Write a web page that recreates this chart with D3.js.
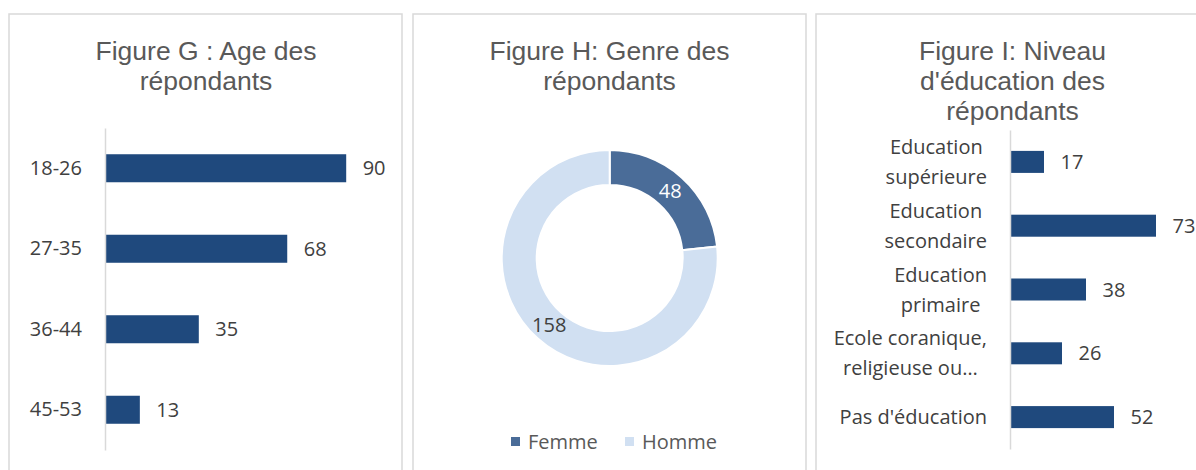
<!DOCTYPE html>
<html>
<head>
<meta charset="utf-8">
<script src="https://cdn.jsdelivr.net/npm/d3@7"></script>
<style>
  body { margin: 0; background: #fff; }
  svg { display: block; }
</style>
</head>
<body>
<div id="chart-area"></div>
<script>
// data
var ageCategories = ["18-26", "27-35", "36-44", "45-53"];
var ageValues = [90, 68, 35, 13];

var genreCategories = ["Femme", "Homme"];
var genreValues = [48, 158];

var eduLabels = [
  ["Education", "supérieure"],
  ["Education", "secondaire"],
  ["Education", "primaire"],
  ["Ecole coranique,", "religieuse ou…"],
  ["Pas d'éducation"]
];
var eduValues = [17, 73, 38, 26, 52];

var titles = [
  ["Figure G : Age des", "répondants"],
  ["Figure H: Genre des", "répondants"],
  ["Figure I: Niveau", "d'éducation des", "répondants"]
];

var barColor = "#1f497d";
var labelFont = "'Open Sans', sans-serif";
var titleFont = "'Liberation Sans', Arial, sans-serif";

var svg = d3.select("#chart-area").append("svg")
  .attr("width", 1196)
  .attr("height", 470);

// panels
var panels = [{x: 9, cx: 206}, {x: 413, cx: 609.5}, {x: 816, cx: 1012.5}];

svg.selectAll("rect.panel")
  .data(panels)
  .enter()
  .append("rect")
  .attr("class", "panel")
  .attr("x", d => d.x)
  .attr("y", 14)
  .attr("width", 393)
  .attr("height", 480)
  .attr("fill", "#fff")
  .attr("stroke", "#d9d9d9")
  .attr("stroke-width", 1.5);

// titles
panels.forEach((p, i) => {
  var t = svg.append("text")
    .attr("text-anchor", "middle")
    .attr("font-family", titleFont)
    .attr("font-size", "26.5px")
    .attr("fill", "#595959");
  titles[i].forEach((line, j) => {
    t.append("tspan")
      .attr("x", p.cx)
      .attr("y", 60 + j * 30)
      .text(line);
  });
});

// Figure G : bar chart
var gG = svg.append("g").attr("transform", "translate(105,0)");

var yG = d3.scaleBand()
  .domain(ageCategories)
  .range([128, 450])
  .paddingInner(0.652)
  .paddingOuter(0.326);

var xG = d3.scaleLinear()
  .domain([0, 100])
  .range([0, 268]);

gG.selectAll("rect")
  .data(ageValues)
  .enter()
  .append("rect")
  .attr("x", 0)
  .attr("y", (d, i) => yG(ageCategories[i]))
  .attr("width", d => xG(d))
  .attr("height", yG.bandwidth())
  .attr("fill", barColor);

gG.selectAll("text.val")
  .data(ageValues)
  .enter()
  .append("text")
  .attr("class", "val")
  .attr("x", d => xG(d) + 16.5)
  .attr("y", (d, i) => yG(ageCategories[i]) + yG.bandwidth() / 2)
  .attr("dy", "0.35em")
  .attr("font-family", labelFont)
  .attr("font-size", "20px")
  .attr("fill", "#404040")
  .text(d => d);

var axG = gG.append("g")
  .call(d3.axisLeft(yG).tickSize(0).tickPadding(23));
axG.select(".domain").attr("stroke", "#d9d9d9").attr("stroke-width", 1.5);
axG.selectAll("text")
  .attr("font-family", labelFont)
  .attr("font-size", "20px")
  .attr("fill", "#404040");

// Figure H : donut
var gH = svg.append("g").attr("transform", "translate(609.7,258)");

var pie = d3.pie().sort(null).value(d => d);
var arc = d3.arc().innerRadius(73).outerRadius(108);
var labelArc = d3.arc().innerRadius(90.5).outerRadius(90.5);
var color = d3.scaleOrdinal()
  .domain(genreCategories)
  .range(["#4a6c98", "#d1e0f2"]);
var labelColor = d3.scaleOrdinal()
  .domain(genreCategories)
  .range(["#ffffff", "#404040"]);

var arcs = pie(genreValues);

gH.selectAll("path")
  .data(arcs)
  .enter()
  .append("path")
  .attr("d", arc)
  .attr("fill", (d, i) => color(genreCategories[i]))
  .attr("stroke", "#fff")
  .attr("stroke-width", 2);

gH.selectAll("text")
  .data(arcs)
  .enter()
  .append("text")
  .attr("transform", d => "translate(" + labelArc.centroid(d) + ")")
  .attr("text-anchor", "middle")
  .attr("dy", "0.35em")
  .attr("font-family", labelFont)
  .attr("font-size", "20px")
  .attr("fill", (d, i) => labelColor(genreCategories[i]))
  .text(d => d.value);

// legend
var legendX = [511, 625];
var legend = svg.selectAll("g.legend")
  .data(genreCategories)
  .enter()
  .append("g")
  .attr("class", "legend")
  .attr("transform", (d, i) => "translate(" + legendX[i] + ",441.5)");

legend.append("rect")
  .attr("x", 0)
  .attr("y", -4.5)
  .attr("width", 9)
  .attr("height", 9)
  .attr("fill", d => color(d));

legend.append("text")
  .attr("x", 17)
  .attr("dy", "0.35em")
  .attr("font-family", labelFont)
  .attr("font-size", "20px")
  .attr("fill", "#595959")
  .text(d => d);

// Figure I : bar chart
var gI = svg.append("g").attr("transform", "translate(1010,0)");

var eduKeys = eduLabels.map(d => d.join(" "));

var yI = d3.scaleBand()
  .domain(eduKeys)
  .range([130, 449])
  .paddingInner(0.655)
  .paddingOuter(0.3275);

var xI = d3.scaleLinear()
  .domain([0, 80])
  .range([0, 160]);

gI.selectAll("rect")
  .data(eduValues)
  .enter()
  .append("rect")
  .attr("x", 0)
  .attr("y", (d, i) => yI(eduKeys[i]))
  .attr("width", d => xI(d))
  .attr("height", yI.bandwidth())
  .attr("fill", barColor);

gI.selectAll("text.val")
  .data(eduValues)
  .enter()
  .append("text")
  .attr("class", "val")
  .attr("x", d => xI(d) + 16.5)
  .attr("y", (d, i) => yI(eduKeys[i]) + yI.bandwidth() / 2)
  .attr("dy", "0.35em")
  .attr("font-family", labelFont)
  .attr("font-size", "20px")
  .attr("fill", "#404040")
  .text(d => d);

var axI = gI.append("g")
  .call(d3.axisLeft(yI).tickSize(0).tickFormat(""));
axI.select(".domain").attr("stroke", "#d9d9d9").attr("stroke-width", 1.5);

// multi-line category labels, centred as a block, right edge 23px from axis
eduLabels.forEach((lines, i) => {
  var cy = yI(eduKeys[i]) + yI.bandwidth() / 2;
  var t = gI.append("text")
    .attr("text-anchor", "middle")
    .attr("font-family", labelFont)
    .attr("font-size", "20px")
    .attr("fill", "#404040");
  var spans = lines.map((line, j) => t.append("tspan")
    .attr("y", cy + (j - (lines.length - 1) / 2) * 30)
    .attr("dy", "0.35em")
    .text(line));
  var maxW = d3.max(spans, s => s.node().getComputedTextLength());
  spans.forEach(s => s.attr("x", -23 - maxW / 2));
});
</script>
</body>
</html>
